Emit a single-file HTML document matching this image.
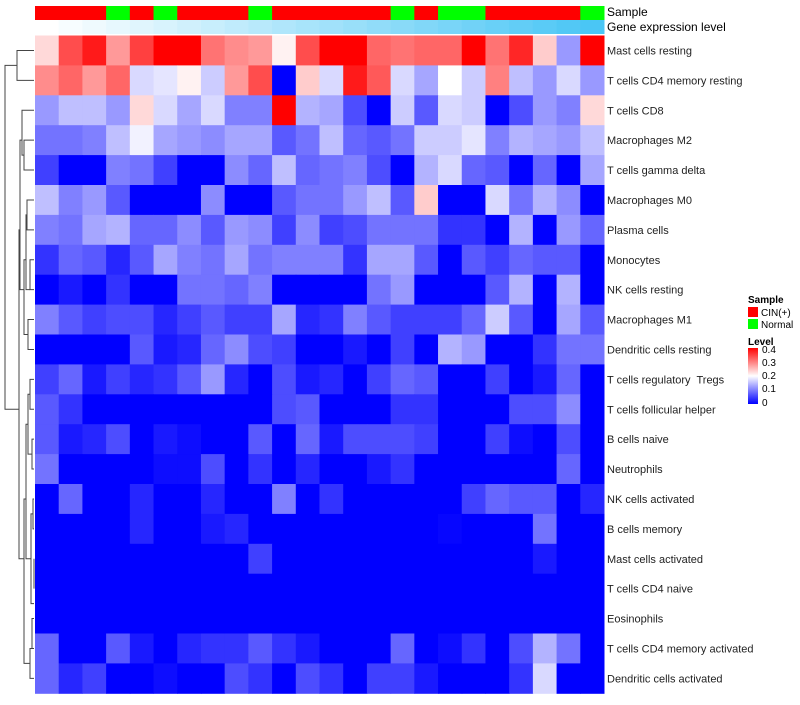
<!DOCTYPE html>
<html><head><meta charset="utf-8"><style>
body{margin:0;background:#fff;font-family:"Liberation Sans",sans-serif}
svg text{font-family:"Liberation Sans",sans-serif}
</style></head><body>
<svg id="chart" width="800" height="700" xmlns="http://www.w3.org/2000/svg">
<g id="dendro" stroke="#444" fill="none" stroke-width="1"></g>
<g id="cells"></g>
<g id="annot"></g>
<g id="labels"></g>
<text x="607" y="16" font-size="12" fill="#000">Sample</text>
<text x="607" y="31" font-size="12" fill="#000">Gene expression level</text>
<g>
<text x="748" y="303" font-size="10" font-weight="bold">Sample</text>
<rect x="748" y="307" width="10" height="10" fill="#ff0000"/>
<text x="761" y="316" font-size="10">CIN(+)</text>
<rect x="748" y="319" width="10" height="10" fill="#00ff00"/>
<text x="761" y="328" font-size="10">Normal</text>
<text x="748" y="345" font-size="10" font-weight="bold">Level</text>
<defs><linearGradient id="lg" x1="0" y1="0" x2="0" y2="1"><stop offset="0" stop-color="#ff0000"/><stop offset="0.5" stop-color="#ffffff"/><stop offset="1" stop-color="#0000ff"/></linearGradient></defs>
<rect x="748" y="348" width="10" height="56" fill="url(#lg)"/>
<g font-size="10">
<text x="762" y="353">0.4</text>
<text x="762" y="366">0.3</text>
<text x="762" y="379">0.2</text>
<text x="762" y="392">0.1</text>
<text x="762" y="406">0</text>
</g></g>
</svg>
<script>
const rowNames=["Mast cells resting","T cells CD4 memory resting","T cells CD8","Macrophages M2","T cells gamma delta","Macrophages M0","Plasma cells","Monocytes","NK cells resting","Macrophages M1","Dendritic cells resting","T cells regulatory  Tregs","T cells follicular helper","B cells naive","Neutrophils","NK cells activated","B cells memory","Mast cells activated","T cells CD4 naive","Eosinophils","T cells CD4 memory activated","Dendritic cells activated"];
const sampleGroups=["C","C","C","N","C","N","C","C","C","N","C","C","C","C","C","N","C","N","N","C","C","C","C","N"];
const r1=[.23,.34,.38,.28,.35,.4,.4,.31,.29,.28,.21,.34,.4,.4,.32,.31,.32,.32,.4,.31,.37,.24,.12,.4];
const r2=[.29,.32,.28,.32,.17,.18,.21,.16,.28,.34,0,.24,.17,.38,.33,.17,.13,.2,.16,.3,.15,.12,.17,.12];
const r3=[.12,.15,.15,.12,.23,.17,.13,.17,.1,.1,.4,.14,.13,.06,0,.16,.07,.17,.16,0,.06,.12,.1,.23];
const r4=[.09,.09,.1,.15,.19,.13,.12,.11,.13,.13,.07,.09,.15,.08,.07,.09,.16,.16,.18,.1,.14,.13,.12,.15];
const r5=[.05,0,0,.1,.09,.05,0,0,.11,.08,.15,.08,.09,.1,.06,0,.14,.17,.08,.07,0,.08,0,.13];
const r6=[.15,.1,.12,.07,0,0,0,.11,0,0,.07,.09,.09,.12,.15,.07,.24,0,0,.17,.09,.14,.11,0];
const r7=[.1,.09,.13,.14,.08,.08,.11,.07,.12,.11,.05,.11,.05,.06,.09,.09,.09,.04,.04,0,.14,0,.12,.08];
const r8=[.04,.08,.07,.03,.07,.13,.1,.09,.13,.09,.1,.1,.1,.04,.13,.13,.07,0,.07,.05,.08,.07,.07,0];
const r9=[0,.02,0,.04,0,0,.09,.09,.08,.1,0,0,0,0,.09,.12,0,0,0,.07,.14,0,.14,0];
const r10=[.1,.07,.05,.06,.06,.03,.05,.07,.05,.05,.13,.03,.04,.1,.07,.05,.05,.05,.08,.16,.07,0,.13,.07];
const r11=[0,0,0,0,.07,.02,.03,.08,.11,.06,.05,0,0,.02,0,.05,0,.14,.12,0,0,.04,.09,.09];
const r12=[.05,.08,.02,.05,.03,.04,.07,.12,.03,0,.06,.02,.03,0,.05,.08,.07,0,0,.05,0,.02,.08,0];
const r13=[.07,.04,0,0,0,0,0,0,0,0,.06,.07,0,0,0,.04,.04,0,0,0,.06,.06,.11,0];
const r14=[.07,.02,.03,.06,0,.02,.01,0,0,.07,0,.08,.02,.06,.06,.06,.05,0,0,.05,.01,0,.06,0];
const r15=[.09,0,0,0,0,.01,.01,.06,0,.04,0,.03,0,0,.02,.04,0,0,0,0,0,0,.08,0];
const r16=[0,.08,0,0,.03,0,0,.03,0,0,.1,0,.04,0,0,0,0,0,.05,.08,.07,.07,0,.03];
const r17=[0,0,0,0,.03,0,0,.02,.03,0,0,0,0,0,0,0,0,.005,0,0,0,.09,0,0];
const r18=[0,0,0,0,0,0,0,0,0,.05,0,0,0,0,0,0,0,0,0,0,0,.02,0,0];
const r19=[0,0,0,0,0,0,0,0,0,0,0,0,0,0,0,0,0,0,0,0,0,0,0,0];
const r20=[0,0,0,0,0,0,0,0,0,0,0,0,0,0,0,0,0,0,0,0,0,0,0,0];
const r21=[.08,0,0,.07,.02,0,.03,.04,.04,.07,.04,.02,0,0,0,.08,0,.01,.04,0,.06,.14,.09,0];
const r22=[.08,.03,.05,0,0,.01,0,0,.06,.04,0,.06,.04,0,.05,.05,.02,0,0,0,.04,.17,0,0];
const values=[r1,r2,r3,r4,r5,r6,r7,r8,r9,r10,r11,r12,r13,r14,r15,r16,r17,r18,r19,r20,r21,r22];

const X0=35,X1=604,Y0=35.5,RH=29.9,NC=sampleGroups.length,CW=(X1-X0)/NC;
const xPos=i=>X0+i*CW, yPos=r=>Y0+r*RH;
function color(v){
  const t=Math.max(0,Math.min(1,v/0.4));
  let r,g,b;
  if(t<0.5){const u=t/0.5;r=Math.round(255*u);g=r;b=255;}
  else{const u=(t-0.5)/0.5;r=255;g=Math.round(255*(1-u));b=g;}
  return `rgb(${r},${g},${b})`;
}
const NS="http://www.w3.org/2000/svg";
const cells=document.getElementById('cells');
values.forEach((row,r)=>row.forEach((v,c)=>{
  const e=document.createElementNS(NS,'rect');
  e.setAttribute('x',xPos(c));e.setAttribute('y',yPos(r));
  e.setAttribute('width',CW+0.5);e.setAttribute('height',RH+0.5);
  e.setAttribute('fill',color(v));
  
  
  cells.appendChild(e);
}));
const annot=document.getElementById('annot');
sampleGroups.forEach((g,c)=>{
  const e=document.createElementNS(NS,'rect');
  e.setAttribute('x',xPos(c));e.setAttribute('y',6);e.setAttribute('width',CW+0.5);e.setAttribute('height',14);
  e.setAttribute('fill',g==="C"?"#ff0000":"#00ff00");
  
  
  annot.appendChild(e);
  const f=document.createElementNS(NS,'rect');
  const t=c/(NC-1);
  f.setAttribute('x',xPos(c));f.setAttribute('y',20);f.setAttribute('width',CW+0.5);f.setAttribute('height',14);
  f.setAttribute('fill',`rgb(${Math.round(255-(255-74)*t)},${Math.round(255-(255-198)*t)},${Math.round(255-(255-245)*t)})`);
  
  
  annot.appendChild(f);
});
const labels=document.getElementById('labels');
rowNames.forEach((n,r)=>{
  const t=document.createElementNS(NS,'text');
  t.setAttribute('x',607);t.setAttribute('y',yPos(r)+RH/2+4);
  t.setAttribute('font-size','11');t.setAttribute('fill','#222');
  t.setAttribute('style','white-space:pre');
  t.textContent=n;
  
  
  labels.appendChild(t);
});
const d=document.getElementById('dendro');
const cy=r=>yPos(r)+RH/2;
function link(xa,ya,xb,yb,xj){
  const p=document.createElementNS(NS,'path');
  p.setAttribute('d',`M${xa},${ya}H${xj}V${yb}H${xb}`);
  
  
  d.appendChild(p);
}
link(34,cy(0),34,cy(1),17);
link(34,cy(3),34,cy(4),24);
link(24,(cy(3)+cy(4))/2,34,cy(2),22);
link(34,cy(5),34,cy(6),27);
link(27,(cy(5)+cy(6))/2,30,cy(8),26);
link(34,cy(7),34,cy(8),30);
link(34,cy(9),34,cy(10),28);
link(26,cy(7),28,cy(9.5),24);
link(22,cy(3),24,cy(8),20);
link(34,cy(11),34,cy(12),30);
link(34,cy(13),34,cy(14),32);
link(30,cy(11.5),32,cy(13.5),28);
link(34,cy(15),34,cy(16),33);
link(34,cy(17),34,cy(18),34);
link(34,cy(19),34,cy(20),32);
link(34,cy(20),34,cy(21),30);
link(33,cy(15.5),34,cy(18.5),31);
link(28,cy(12.5),31,cy(17),26);
link(26,cy(15),30,cy(20.5),24);
link(20,cy(6),24,cy(17),19);
link(17,cy(0.5),19,cy(12),5);
</script>
</body></html>
